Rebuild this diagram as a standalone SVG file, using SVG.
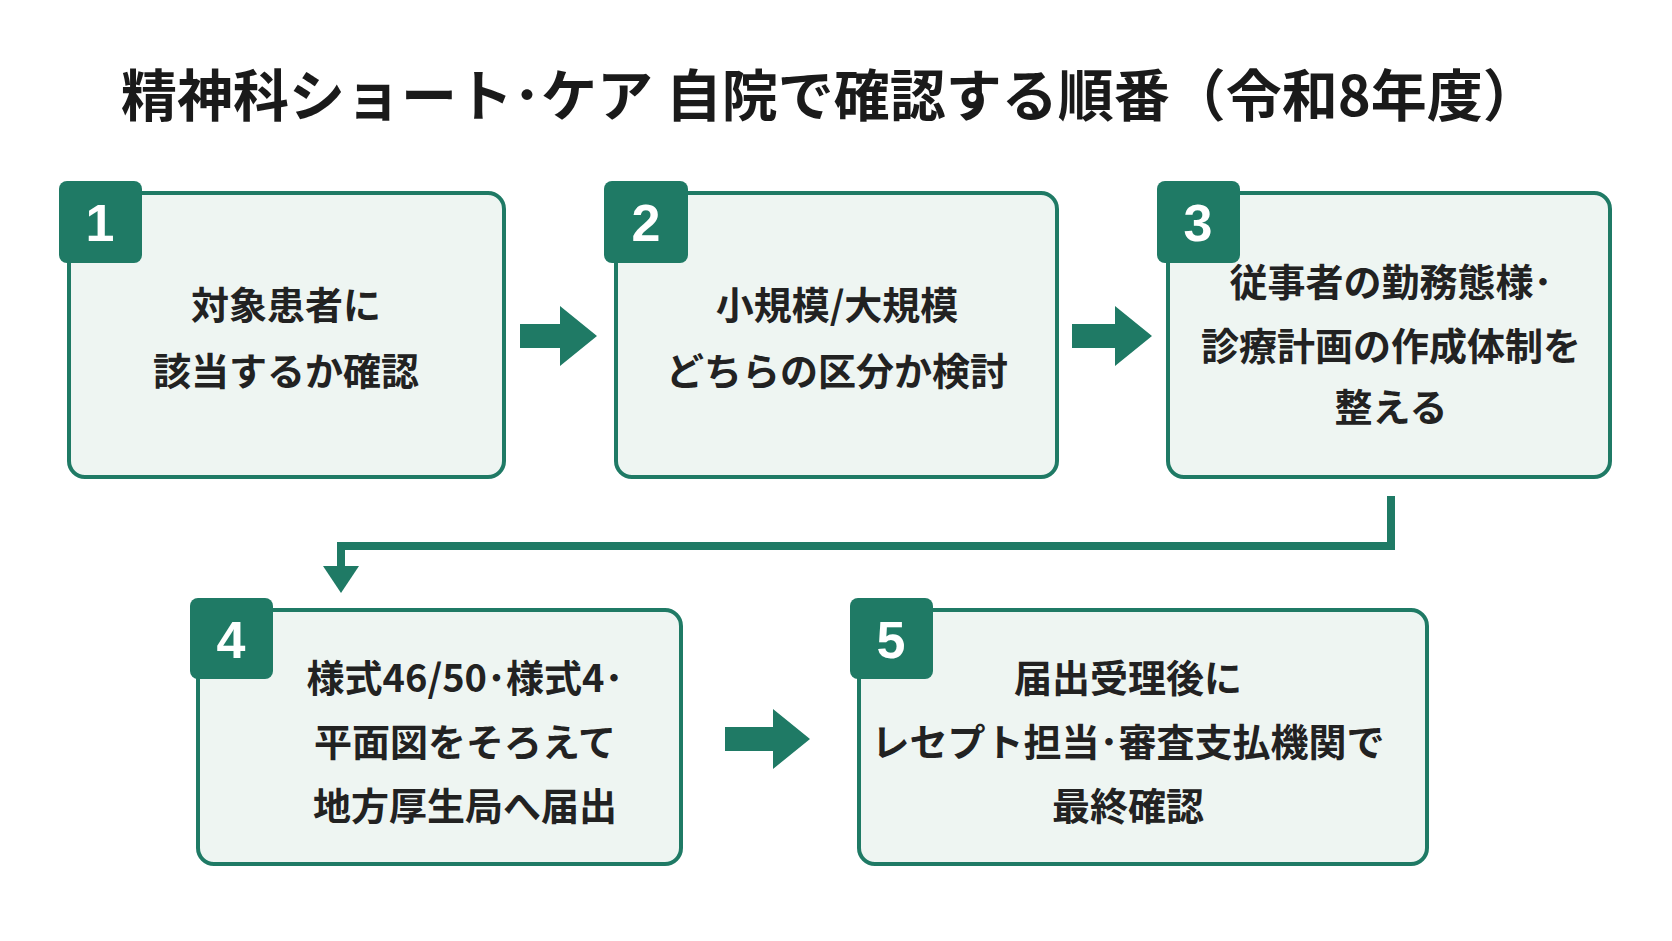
<svg xmlns="http://www.w3.org/2000/svg" width="1672" height="941" viewBox="0 0 1672 941">
<defs><style>
.box{fill:#eef5f2;stroke:#1f7a65;stroke-width:4}
.badge{fill:#1f7a65}
.num{font-family:"Liberation Sans","Noto Sans CJK JP",sans-serif;font-weight:bold;font-size:52px;fill:#fff;text-anchor:middle}
.t{font-family:"Noto Sans CJK JP",sans-serif;font-weight:bold;font-size:38px;fill:#222;text-anchor:middle}
.title{font-family:"Noto Sans CJK JP",sans-serif;font-weight:bold;font-size:56px;fill:#1a1a1a;text-anchor:middle}
.ar{fill:#1f7a65}
</style></defs>
<rect width="1672" height="941" fill="#fff"/>
<text class="title" x="830" y="116">精神科ショート･ケア 自院で確認する順番（令和8年度）</text>
<g id="connectors">
<path class="ar" d="M520 324h40v-18l37 30-37 30v-18h-40z"/>
<path class="ar" d="M1072 324h43v-18l37 30-37 30v-18h-43z"/>
<path class="ar" d="M725 727h48v-18l37 30-37 30v-18h-48z"/>
<path d="M1391 496V546H341V570" fill="none" stroke="#1f7a65" stroke-width="8"/>
<path class="ar" d="M323 566h36l-18 27z"/>
</g>
<g id="n1"><rect class="box" x="69" y="193" width="435" height="284" rx="16"/><rect class="badge" x="59" y="181" width="83" height="82" rx="8"/><text class="num" x="100" y="241">1</text><text class="t" x="286" y="319">対象患者に</text><text class="t" x="286" y="385">該当するか確認</text></g>
<g id="n2"><rect class="box" x="616" y="193" width="441" height="284" rx="16"/><rect class="badge" x="604" y="181" width="84" height="82" rx="8"/><text class="num" x="646" y="241">2</text><text class="t" x="837" y="319">小規模/大規模</text><text class="t" x="837" y="385">どちらの区分か検討</text></g>
<g id="n3"><rect class="box" x="1168" y="193" width="442" height="284" rx="16"/><rect class="badge" x="1157" y="181" width="83" height="82" rx="8"/><text class="num" x="1198" y="241">3</text><text class="t" x="1391" y="296">従事者の勤務態様･</text><text class="t" x="1391" y="360">診療計画の作成体制を</text><text class="t" x="1391" y="421">整える</text></g>
<g id="n4"><rect class="box" x="198" y="610" width="483" height="254" rx="16"/><rect class="badge" x="190" y="598" width="83" height="81" rx="8"/><text class="num" x="231" y="658">4</text><text class="t" x="465" y="692">様式46/50･様式4･</text><text class="t" x="465" y="756">平面図をそろえて</text><text class="t" x="465" y="820">地方厚生局へ届出</text></g>
<g id="n5"><rect class="box" x="859" y="610" width="568" height="254" rx="16"/><rect class="badge" x="850" y="598" width="83" height="81" rx="8"/><text class="num" x="891" y="658">5</text><text class="t" x="1128" y="692">届出受理後に</text><text class="t" x="1128" y="756">レセプト担当･審査支払機関で</text><text class="t" x="1128" y="820">最終確認</text></g>
</svg>
